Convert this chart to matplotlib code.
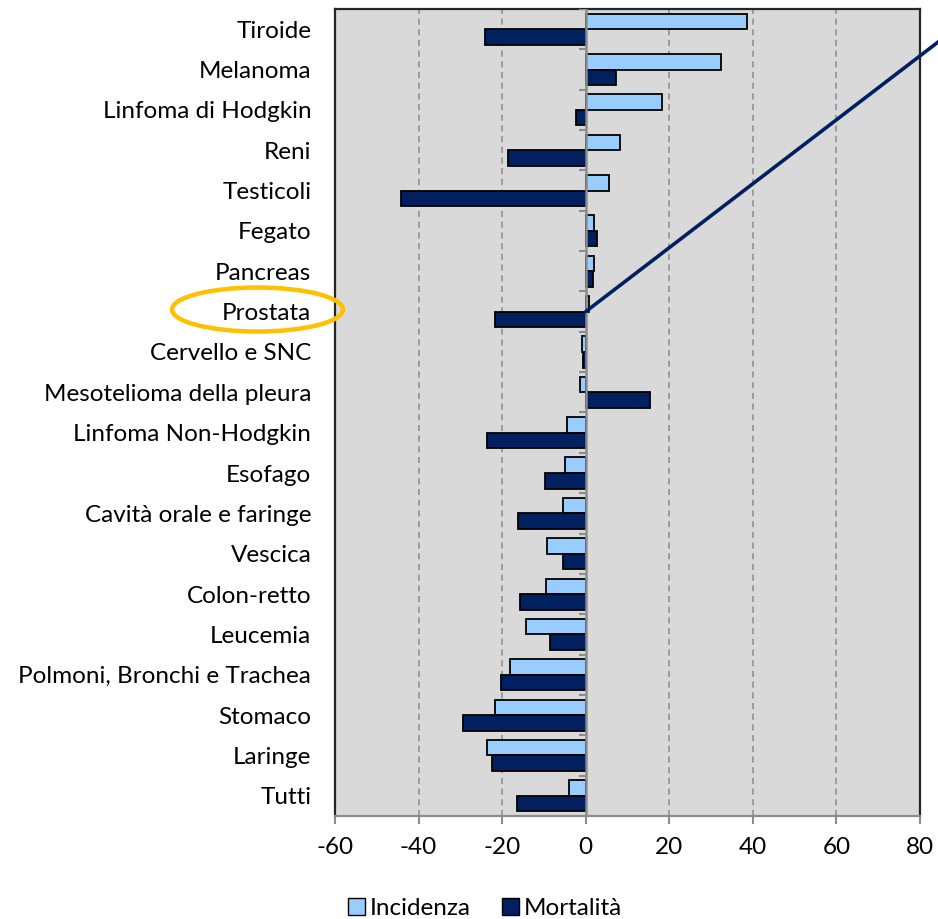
import matplotlib
matplotlib.use('Agg')
import matplotlib.pyplot as plt
import numpy as np
from matplotlib.patches import Ellipse, Patch

plt.rcParams['font.family'] = ['Lato', 'DejaVu Sans']

categorie = ["Tiroide", "Melanoma", "Linfoma di Hodgkin", "Reni", "Testicoli",
             "Fegato", "Pancreas", "Prostata", "Cervello e SNC",
             "Mesotelioma della pleura", "Linfoma Non-Hodgkin", "Esofago",
             "Cavità orale e faringe", "Vescica", "Colon-retto", "Leucemia",
             "Polmoni, Bronchi e Trachea", "Stomaco", "Laringe", "Tutti"]
incidenza = [38.5, 32.5, 18.2, 8.2, 5.6, 2.1, 2.0, 0.9, -0.9, -1.3,
             -4.5, -4.9, -5.4, -9.2, -9.5, -14.2, -18.2, -21.8, -23.5, -3.9]
mortalita = [-24.0, 7.2, -2.3, -18.6, -44.1, 2.8, 1.7, -21.8, -0.6, 15.4,
             -23.5, -9.8, -16.1, -5.5, -15.8, -8.5, -20.2, -29.4, -22.5, -16.5]
x_ticks = [-60, -40, -20, 0, 20, 40, 60, 80]

col_inc = '#99CCFF'
col_mort = '#002060'
grigio = '#8C8C8C'
fs = 17.5

fig = plt.figure(figsize=(9.38, 9.19), dpi=100)
ax = fig.add_axes([0.3571, 0.1121, 0.6237, 0.8781])
ax.set_facecolor('#D9D9D9')

y = np.arange(len(categorie))
h = 0.385
ax.barh(y - h / 2, incidenza, height=h, color=col_inc, edgecolor='black', linewidth=1.3, zorder=3)
ax.barh(y + h / 2, mortalita, height=h, color=col_mort, edgecolor='black', linewidth=1.3, zorder=3)

ax.set_xlim(-60, 80)
ax.set_ylim(len(categorie) - 0.5, -0.5)

# dashed vertical grid, solid axis line at zero
for t in x_ticks[1:-1]:
    if t == 0:
        ax.axvline(0, color=grigio, lw=1.8, zorder=4)
    else:
        ax.axvline(t, color=grigio, lw=1.1, ls=(0, (4, 3)), zorder=1)

# small category ticks along the zero axis
bordi = np.arange(len(categorie) + 1) - 0.5
ax.hlines(bordi, -1.5, 0, color=grigio, lw=1.5, zorder=4)

ax.set_yticks(y)
ax.set_yticklabels(categorie, fontsize=fs)
ax.tick_params(axis='y', length=0, pad=17)
ax.set_xticks(x_ticks)
ax.set_xticklabels([str(t) for t in x_ticks], fontsize=fs)
ax.tick_params(axis='x', length=6, width=1.5, color=grigio, pad=9)

for s in ['left', 'top', 'right']:
    ax.spines[s].set_color('#262626')
    ax.spines[s].set_linewidth(1.6)
ax.spines['bottom'].set_color(grigio)
ax.spines['bottom'].set_linewidth(1.6)

# highlight on Prostata
i_pro = categorie.index("Prostata")
ell = Ellipse((257.5 / 938, 1 - 309.5 / 919), 171 / 938, 44 / 919,
              transform=fig.transFigure, fill=False, edgecolor='#FFC000', lw=3.2)
fig.patches.append(ell)
ax.annotate('', xy=(0, i_pro), xycoords='data',
            xytext=(1.01, 0.962), textcoords='figure fraction',
            arrowprops=dict(arrowstyle='-', color=col_mort, lw=2.6,
                            shrinkA=0, shrinkB=0),
            annotation_clip=False, zorder=6)

handles = [Patch(facecolor=col_inc, edgecolor='black', label='Incidenza'),
           Patch(facecolor=col_mort, edgecolor='black', label='Mortalità')]
fig.legend(handles=handles, loc='center', bbox_to_anchor=(0.517, 0.011),
           ncol=2, frameon=False, fontsize=fs, handlelength=0.7,
           handleheight=0.7, handletextpad=0.2, columnspacing=1.3)

fig.savefig('out.png', dpi=100)
